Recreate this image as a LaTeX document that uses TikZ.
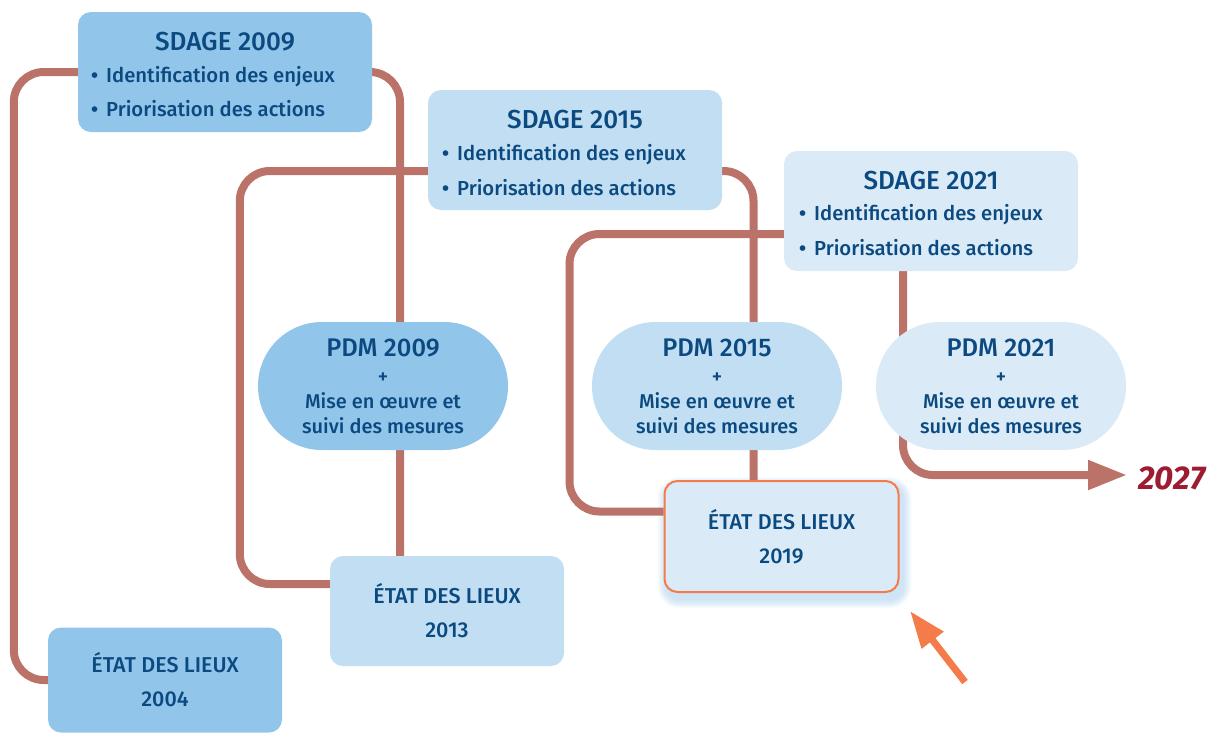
\documentclass[tikz,border=0pt]{standalone}
\usepackage{fontspec}
\setmainfont{Fira Sans}[UprightFont={* Medium},BoldFont={* Bold},BoldItalicFont={* Bold Italic},ItalicFont={* Medium Italic}]
\usetikzlibrary{arrows.meta,backgrounds,calc}
\definecolor{cA}{HTML}{92C5EA}
\definecolor{cB}{HTML}{C2DEF3}
\definecolor{cC}{HTML}{DBEAF7}
\definecolor{txt}{HTML}{0B4A80}
\definecolor{connc}{HTML}{BA7269}
\definecolor{orng}{HTML}{F47B4A}
\definecolor{redyr}{HTML}{9E1C32}
\definecolor{glowc}{HTML}{9CC6EA}
\newcommand{\bul}{\textbf{•}\hspace{0.4em}}
\begin{document}
\begin{tikzpicture}[x=1pt,y=-1pt,
 sbox/.style={rectangle,rounded corners=13pt,minimum width=294pt,minimum height=120pt,inner sep=0pt},
 stitle/.style={text=txt,font=\fontsize{26}{30}\selectfont,inner sep=0pt},
 sbul/.style={text=txt,font=\fontsize{20.3}{24}\selectfont,inner sep=0pt,anchor=west},
 ebox/.style={rectangle,rounded corners=13pt,minimum width=234pt,minimum height=110pt,inner sep=0pt,align=center,text=txt,font=\fontsize{21.5}{34}\selectfont},
 pdm/.style={rectangle,rounded corners=63.9pt,minimum width=250pt,minimum height=128pt,inner sep=0pt,align=center,text=txt,font=\fontsize{20}{25}\selectfont},
 conn/.style={draw=connc,line width=8pt,rounded corners=30pt},
]
\useasboundingbox (0,0) rectangle (1214,734);

% SDAGE boxes
\node[sbox,fill=cA] (s09) at (225,72) {};
\node[stitle] (s09t) at ($(s09.north)+(0,30)$) {SDAGE 2009};
\node[sbul] (s09a) at ($(s09.north west)+(13,65)$) {\bul Identification des enjeux};
\node[sbul] (s09b) at ($(s09.north west)+(13,97)$) {\bul Priorisation des actions};

\node[sbox,fill=cB] (s15) at (575,150) {};
\node[stitle] (s15t) at ($(s15.north)+(0,30)$) {SDAGE 2015};
\node[sbul] (s15a) at ($(s15.north west)+(14,65)$) {\bul Identification des enjeux};
\node[sbul] (s15b) at ($(s15.north west)+(14,98)$) {\bul Priorisation des actions};

\node[sbox,fill=cC] (s21) at (931,211) {};
\node[stitle] (s21t) at ($(s21.north)+(0,30)$) {SDAGE 2021};
\node[sbul] (s21a) at ($(s21.north west)+(15,64)$) {\bul Identification des enjeux};
\node[sbul] (s21b) at ($(s21.north west)+(15,97)$) {\bul Priorisation des actions};

% PDM
\node[pdm,fill=cA] (p09) at (383,386) {{\fontsize{25.5}{25}\selectfont PDM 2009}\\[2pt] +\\ Mise en œuvre et\\ suivi des mesures};
\node[pdm,fill=cB] (p15) at (717,386) {{\fontsize{25.5}{25}\selectfont PDM 2015}\\[2pt] +\\ Mise en œuvre et\\ suivi des mesures};
\node[pdm,fill=cC] (p21) at (1001,386) {{\fontsize{25.5}{25}\selectfont PDM 2021}\\[2pt] +\\ Mise en œuvre et\\ suivi des mesures};

% Etat des lieux
\node[ebox,fill=cA,minimum height=105pt] (e04) at (165,680) {ÉTAT DES LIEUX\\2004};
\node[ebox,fill=cB] (e13) at (447,611) {ÉTAT DES LIEUX\\2013};
\node[ebox,fill=cC,draw=orng,line width=2pt,minimum height=111pt] (e19) at (781.5,536.5) {ÉTAT DES LIEUX\\2019};

\begin{pgfonlayer}{background}
 \foreach \i in {1,...,9}{
   \fill[glowc,opacity=0.07,rounded corners=13pt+\i pt]
     ($(e19.north west)+(3-\i,6-\i)$) rectangle ($(e19.south east)+(3+\i,6+\i)$);
 }
 \draw[conn] (s09.west) -| ([xshift=-34pt]e04.west) -- (e04.west);
 \draw[conn] (s09.east) -| ([xshift=-47pt]e13.north);
 \draw[conn] ([yshift=-21pt]s15.west) -| ([xshift=-90pt,yshift=27pt]e13.west) -- ([yshift=27pt]e13.west);
 \draw[conn] ([yshift=-21pt]s15.east) -| ([xshift=-28pt]e19.north);
 \draw[conn] ([yshift=-23pt]s21.west) -| ([xshift=-94pt,yshift=25pt]e19.west) -- ([yshift=25pt]e19.west);
 \coordinate (end) at (1127,475);
 \draw[conn,-{Triangle[length=39pt,width=28pt]}] ([xshift=-28pt]s21.south) |- (end);
\end{pgfonlayer}

\node[text=redyr,font=\fontsize{33}{33}\selectfont\bfseries\itshape,anchor=west,inner sep=0pt] (y27) at (1138,478) {2027};

\coordinate (oa) at (965,682);
\coordinate (ot) at (910,611);
\draw[draw=orng,line width=7pt,-{Triangle[length=37pt,width=26pt]}] (oa) -- (ot);
\end{tikzpicture}
\end{document}
